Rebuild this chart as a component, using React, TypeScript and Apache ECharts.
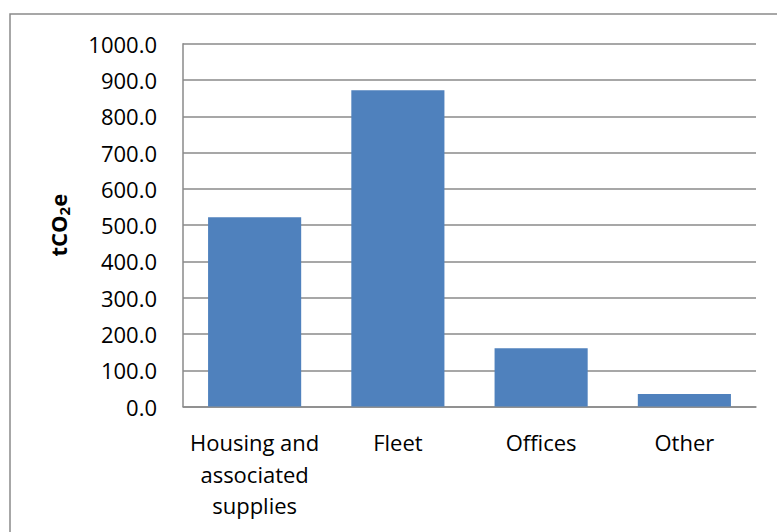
import React, { useEffect, useRef } from "react";
import * as echarts from "echarts";

const categories = ["Housing and\nassociated\nsupplies", "Fleet", "Offices", "Other"];
const values = [522, 872, 161, 35];
const yTicks = { min: 0, max: 1000, interval: 100 };

export default function App() {
  const ref = useRef<HTMLDivElement>(null);
  useEffect(() => {
    const chart = echarts.init(ref.current!, null, { renderer: "svg" });
    const font = "'Open Sans', sans-serif";
    chart.setOption({
      animation: false,
      backgroundColor: "#fff",
      graphic: [
        {
          type: "rect",
          shape: { x: 10, y: 14, width: 800, height: 600 },
          style: { fill: "none", stroke: "#8a8a8a", lineWidth: 1.5 },
          silent: true,
        },
      ],
      grid: { left: 183, right: 21, top: 43.7, bottom: 125.4 },
      xAxis: {
        type: "category",
        data: categories,
        axisLine: { lineStyle: { color: "#8a8a8a", width: 1.5 } },
        axisTick: { show: false },
        axisLabel: {
          color: "#000",
          fontFamily: font,
          fontSize: 22,
          lineHeight: 31.5,
          margin: 20,
          interval: 0,
        },
      },
      yAxis: {
        type: "value",
        min: yTicks.min,
        max: yTicks.max,
        interval: yTicks.interval,
        name: "{a|tCO}{b|2}{a|e}",
        nameLocation: "middle",
        nameRotate: 90,
        nameGap: 112,
        nameTextStyle: {
          rich: {
            a: { fontFamily: font, fontSize: 22, fontWeight: "bold", color: "#000" },
            b: {
              fontFamily: font,
              fontSize: 15,
              fontWeight: "bold",
              color: "#000",
              padding: [12, 0, 0, 0],
            },
          },
        },
        axisLine: { show: true, lineStyle: { color: "#8a8a8a", width: 1.5 } },
        axisTick: { show: false },
        splitLine: { lineStyle: { color: "#8a8a8a", width: 1.5 } },
        axisLabel: {
          color: "#000",
          fontFamily: font,
          fontSize: 22,
          margin: 26,
          formatter: (v: number) => v.toFixed(1),
        },
      },
      series: [
        {
          type: "bar",
          data: values,
          barWidth: "65%",
          itemStyle: { color: "#4F81BD" },
        },
      ],
    });
    return () => chart.dispose();
  }, []);
  return (
    <div
      ref={ref}
      style={{ position: "absolute", left: 0, top: 0, width: 777, height: 532 }}
    />
  );
}
